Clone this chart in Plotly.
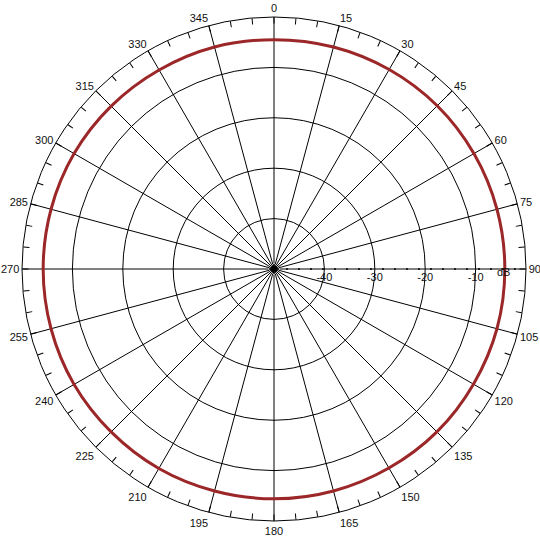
import plotly.graph_objects as go

# %%
# Diagrama polar (dB) - angulos em graus, sentido horario a partir do topo
angulos = list(range(0, 361, 15))
nivel_db = [-4.5, -4.4, -4.3, -4.2, -4.2, -4.2, -4.2, -4.2, -4.3, -4.3, -4.4, -4.4, -4.4,
            -4.4, -4.3, -4.3, -4.2, -4.2, -4.2, -4.2, -4.2, -4.3, -4.4, -4.4, -4.5]

# grade angular a cada 15 graus e marcas menores a cada 5 graus
grade_angulos = list(range(0, 360, 15))
rotulos_angulos = [str(a) for a in grade_angulos]
marcas_menores = list(range(0, 360, 5))

# aneis do eixo radial
faixa_db = [-50, 0]
aneis_db = [-40, -30, -20, -10]
rotulos_db = ["-40", "-30", "-20", "-10"]

fonte = dict(family="Liberation Sans, Arial, sans-serif", size=11, color="#111111")
dominio = dict(x=[0, 1], y=[0, 1])

# %%
fig = go.Figure()
fig.add_trace(go.Scatterpolar(r=nivel_db, theta=angulos, mode="lines",
                              line=dict(color="#9c2729", width=3, shape="spline"),
                              subplot="polar", showlegend=False, hoverinfo="skip"))
# linha pontilhada do eixo radial (90 graus), com o ponto central
fig.add_trace(go.Scatterpolar(r=faixa_db, theta=[90, 90], mode="lines+markers",
                              line=dict(color="black", width=1.6, dash="2px,10px"),
                              marker=dict(size=[9, 0], symbol="diamond", color="black"),
                              subplot="polar2", showlegend=False, hoverinfo="skip"))

fig.update_layout(
    width=540, height=540,
    margin=dict(l=22, r=14, t=17, b=19),
    paper_bgcolor="white",
    polar=dict(
        domain=dominio,
        bgcolor="white",
        angularaxis=dict(rotation=90, direction="clockwise", tickmode="array",
                         tickvals=grade_angulos, ticktext=rotulos_angulos, ticks="",
                         showline=True, linecolor="black", linewidth=1,
                         gridcolor="black", gridwidth=1, tickfont=fonte),
        radialaxis=dict(range=faixa_db, tickmode="array", tickvals=aneis_db,
                        ticktext=rotulos_db, angle=0, side="clockwise",
                        showline=False, ticks="", gridcolor="black", gridwidth=1,
                        tickfont=fonte),
    ),
    polar2=dict(
        domain=dominio,
        bgcolor="rgba(0,0,0,0)",
        angularaxis=dict(rotation=90, direction="clockwise", tickmode="array",
                         tickvals=marcas_menores, ticks="inside", ticklen=6,
                         tickcolor="black", showticklabels=False, showgrid=False,
                         showline=False),
        radialaxis=dict(range=faixa_db, visible=False),
    ),
    annotations=[dict(text="dB", x=0.972, y=0.494, xref="paper", yref="paper",
                      showarrow=False, font=fonte)],
)

# tira a margem padrao do body para o grafico ocupar a janela toda
fig.write_html("out.html", config={"displayModeBar": False},
               post_script="document.body.style.margin = '0px';")
